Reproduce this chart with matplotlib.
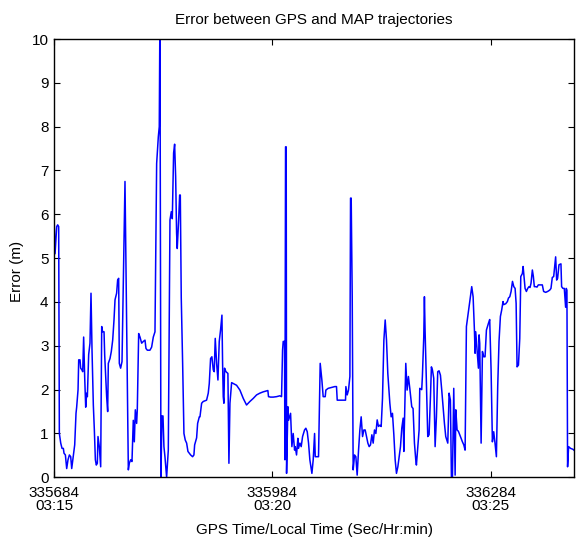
import matplotlib
matplotlib.use("Agg")
import matplotlib.pyplot as plt
import numpy as np

plt.rcParams['font.family'] = ['Liberation Sans', 'DejaVu Sans']

t0 = 335684
# seconds after t0
offsets = [
    0, 1.4, 3.7, 5.0, 6.4, 7.3, 9.2, 11.0, 12.8, 13.7, 15.6, 17.4, 19.2, 21.1, 22.9, 24.3,
    26.5, 28.4, 30.2, 31.1, 33.0, 33.9, 35.7, 36.6, 38.4, 39.4, 40.7, 42.1, 43.5, 44.9, 45.8,
    47.6, 49.4, 50.8, 52.2, 54.0, 55.4, 56.8, 58.1, 59.5, 60.4, 62.2, 64.1, 65.5, 66.8, 68.7,
    69.6, 72.3, 73.7, 74.6, 76.9, 78.7, 80.6, 82.4, 83.8, 86.0, 87.4, 88.8, 89.7, 91.5, 93.4,
    97.5, 102.1, 103.4, 105.3, 107.1, 108.9, 110.3, 111.7, 113.5, 114.4, 116.3, 118.1, 120.4,
    122.7, 125.0, 126.3, 128.2, 131.8, 134.1, 136.4, 138.7, 141.0, 143.3, 144.6, 145.5, 146.9,
    148.3, 149.7, 151.0, 152.4, 154.7, 157.0, 159.3, 161.1, 162.5, 164.3, 165.7, 167.1, 168.4,
    169.3, 171.2, 172.6, 173.5, 174.8, 176.7, 178.5, 180.3, 182.2, 184.0, 185.8, 187.7, 190.4,
    192.2, 193.2, 195.9, 197.3, 199.6,
    200.5, 202.8, 205.0, 209.6, 211.9, 213.3, 215.1, 216.9, 218.8, 220.1, 221.5, 223.4, 225.2,
    227.0, 228.8, 230.7, 231.6, 232.5, 233.4, 234.3, 236.2, 238.9, 240.3, 241.7, 244.0, 246.2,
    250.8, 255.4, 260.0, 264.5, 269.1, 273.7, 278.3, 282.8, 287.4, 292.0, 293.8, 294.7, 297.5,
    301.2, 305.7, 310.3, 312.6, 314.0, 314.9, 316.7, 317.2, 318.1, 319.0, 319.5, 321.3, 322.2,
    324.0, 325.0, 326.8, 328.6, 330.5, 331.4, 333.2, 335.0, 335.9, 337.8, 339.6, 341.5, 344.2,
    346.0, 347.9, 349.7, 351.5, 354.3, 356.1, 358.0, 358.9, 360.7, 363.4, 365.7, 368.0, 369.8,
    372.6, 373.5, 376.7, 381.3, 385.8, 388.1, 389.1, 392.7, 397.3, 400.5, 401.0, 402.8, 404.6,
    406.5, 407.4, 408.3, 409.7, 411.0, 412.9, 414.7, 416.5, 418.4, 420.2, 422.0, 423.9, 425.7,
    427.5, 429.4, 431.2, 433.0, 434.8, 436.7, 438.5, 440.3, 442.2, 444.0, 445.8, 447.7, 449.5,
    451.3, 453.2, 455.0, 456.8, 458.6, 461.4, 463.2, 465.0, 466.9, 468.7, 470.5, 472.4,
    476.0, 477.8, 479.7, 480.6, 483.3, 485.1, 486.9, 488.8, 491.5, 493.3, 495.2, 497.0, 497.9,
    499.8, 501.6, 502.5, 505.2, 506.1, 508.0, 508.9, 509.8, 511.6, 513.5, 515.3, 517.2, 518.5,
    519.9, 521.7, 523.6, 525.4, 527.2, 529.0, 530.9, 532.7, 534.5, 536.4, 538.2, 541.0, 542.8,
    544.6, 546.0, 547.4, 549.2, 551.1, 552.0, 553.8, 555.6, 557.5, 559.3, 561.1, 563.0, 564.8,
    566.6, 568.5, 570.3, 572.1, 573.9, 575.8, 577.6, 578.5, 579.4, 581.3, 583.1, 584.0, 584.9,
    586.8, 588.6, 590.4, 592.2, 594.1, 596.8, 598.6, 600.5, 602.3, 604.1, 605.9, 607.8, 609.6,
    611.4, 613.3, 615.1, 616.9, 617.8, 620.6, 622.9, 624.4, 626.2, 628.0, 629.9, 631.7, 633.5,
    634.9, 636.2, 638.1, 639.9, 641.3, 642.6, 643.5, 644.5, 645.8, 647.2, 649.0, 650.8, 652.6,
    654.0, 655.4, 657.2, 658.6, 659.9, 661.8, 663.6, 665.4, 668.2, 670.9, 672.7, 675.5, 678.2,
    681.0, 682.8, 684.6, 686.5, 687.4, 689.2, 690.6, 691.9, 693.8, 696.5, 697.4, 699.2, 701.1,
    702.9, 703.8, 704.7, 705.6, 707.0, 709.7, 712.9, 714.3,
]
errors = [
    5.95, 5.1, 5.72, 5.76, 5.72, 1.0, 0.78, 0.66, 0.66, 0.55, 0.51, 0.2, 0.4, 0.51, 0.47, 0.2,
    0.5, 0.74, 1.46, 1.6, 2.0, 2.68, 2.68, 2.49, 2.45, 2.41, 3.2, 2.3, 1.6, 1.92, 1.84,
    2.8, 3.06, 4.2, 2.9, 1.65, 1.08, 0.4, 0.28, 0.32, 0.93, 0.7, 0.24, 3.44, 3.32, 3.32,
    2.79, 1.84, 1.5, 2.6, 2.71, 2.87, 3.13, 3.59, 4.05, 4.2, 4.5, 4.54, 2.6, 2.49, 2.64,
    6.75, 0.17, 0.32, 0.4, 0.36, 1.3, 0.81, 1.54, 1.23, 1.54, 3.28, 3.2, 3.06,
    3.1, 3.13, 2.94, 2.9, 2.9, 2.97, 3.2, 3.32, 7.16, 7.77, 8.0, 10.6, 0.0,
    1.4, 1.4, 0.7, 0.47, 0.0, 0.62, 5.87, 6.06, 5.9, 7.4, 7.6, 6.86, 5.57,
    5.22, 5.87, 6.44, 6.44, 4.1, 2.6, 1.0, 0.85, 0.78, 0.59, 0.55, 0.51, 0.47,
    0.51, 0.74, 0.9, 1.23, 1.38,
    1.38, 1.69, 1.73, 1.76, 1.92, 2.14, 2.71, 2.75, 2.45, 2.41, 3.17, 2.6, 2.22,
    3.1, 3.36, 3.7, 2.6, 1.84, 1.69, 2.49, 2.41, 2.37, 0.32, 1.69, 2.16, 2.14,
    2.1, 1.99, 1.8, 1.65, 1.73, 1.8, 1.88, 1.92, 1.95, 1.97, 1.98, 1.84, 1.83,
    1.83, 1.84, 1.86, 1.84, 2.9, 3.1, 3.1, 0.4, 7.54, 7.54, 0.09, 1.61, 1.3,
    1.4, 1.46, 0.7, 1.0, 0.62, 0.7, 0.51, 0.89, 0.66, 0.78, 0.7, 0.93, 1.08,
    1.12, 1.04, 0.78, 0.4, 0.09, 0.4, 1.0, 0.47, 0.47, 0.47, 2.6, 2.22, 1.84,
    1.84, 1.99, 2.03, 2.05, 2.07, 2.07, 1.76, 1.76, 1.76, 1.76, 2.07, 1.88, 1.99,
    2.3, 6.37, 6.37, 4.12, 0.17, 0.51, 0.47, 0.05, 0.62, 1.08, 1.38, 0.93, 1.08,
    1.08, 0.93, 0.78, 0.7, 0.74, 0.97, 0.78, 1.08, 1.0, 1.31, 1.16, 1.19, 1.16,
    1.8, 3.13, 3.59, 3.13, 2.37, 1.69, 1.38, 1.46, 0.97, 0.4, 0.09, 0.24,
    0.7, 1.12, 1.35, 0.59, 2.6, 1.99, 2.3, 2.03, 1.61, 1.57, 0.78, 0.4, 0.28,
    0.7, 1.08, 2.03, 2.0, 2.3, 3.2, 4.12, 3.36, 2.14, 0.93, 0.97, 1.84, 2.52,
    2.45, 2.26, 0.7, 1.38, 2.41, 2.43, 2.33, 1.99, 1.61, 1.23, 0.93, 0.78, 1.92,
    1.76, 0.0, 0.0, 2.03, 0.05, 1.54, 1.08, 1.05, 0.97, 0.89, 0.81, 0.74, 0.62,
    3.44, 3.67, 3.9, 4.12, 4.35, 4.12, 3.36, 2.83, 3.32, 2.9, 2.49, 3.25, 3.06,
    0.78, 2.87, 2.75, 2.75, 3.36, 3.51, 3.6, 2.45, 0.81, 1.04, 0.78, 0.47, 2.07,
    3.1, 3.67, 3.82, 4.01, 3.94, 3.96, 4.01, 4.09, 4.12, 4.24, 4.47, 4.35, 4.31,
    3.97, 2.52, 2.56, 3.17, 4.58, 4.62, 4.65, 4.81, 4.58, 4.31, 4.24, 4.31, 4.35,
    4.33, 4.43, 4.73, 4.58, 4.35, 4.35, 4.34, 4.39, 4.39, 4.39, 4.24, 4.22, 4.24,
    4.27, 4.31, 4.56, 4.58, 4.73, 5.03, 4.5, 4.54, 4.85, 4.87, 4.35, 4.31, 4.31,
    3.88, 4.31, 4.27, 0.24, 0.7, 0.66, 0.64, 0.62,
]

xtick_values = [335684, 335984, 336284]
xtick_labels = ["335684\n03:15", "335984\n03:20", "336284\n03:25"]
yticks = list(range(0, 11))

times = np.array(offsets) + t0

fig = plt.figure(figsize=(5.76, 5.38), dpi=100)
ax = fig.add_axes([0.0938, 0.1128, 0.9027, 0.8147])
ax.plot(times, errors, color=(0, 0, 1), lw=1.1)
ax.set_xlim(t0, t0 + 714.4)
ax.set_ylim(0, 10)
ax.set_xticks(xtick_values)
ax.set_xticklabels(xtick_labels, linespacing=0.95)
ax.set_yticks(yticks)
ax.set_yticklabels([str(v) for v in yticks])
ax.tick_params(direction='in', top=True, right=True, length=4, width=0.8,
               labelsize=11)
ax.tick_params(axis='x', pad=6)
ax.tick_params(axis='y', pad=4)
for s in ax.spines.values():
    s.set_linewidth(1.0)
ax.set_title("Error between GPS and MAP trajectories", fontsize=11, pad=10.5)
ax.set_xlabel("GPS Time/Local Time (Sec/Hr:min)", fontsize=11, labelpad=7)
ax.set_ylabel("Error (m)", fontsize=11)
ax.yaxis.set_label_coords(-0.058, 0.47)

fig.savefig("out.png", dpi=100)
